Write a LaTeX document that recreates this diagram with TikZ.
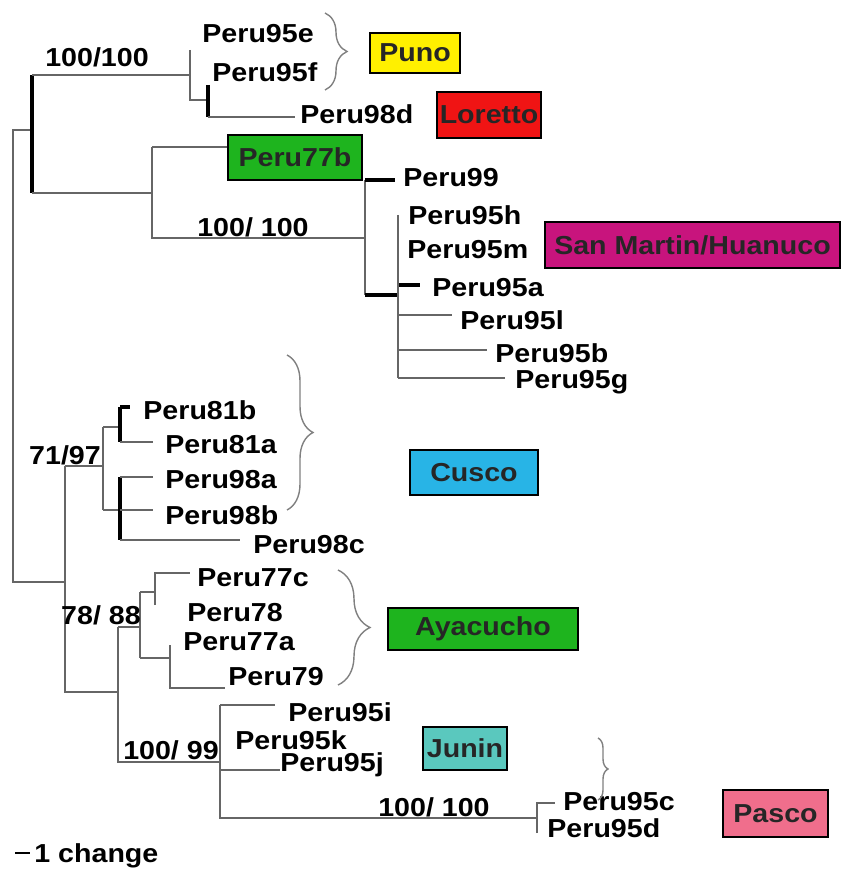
\documentclass[tikz,border=0pt]{standalone}
\usepackage{fontspec}
\setmainfont{Liberation Sans}[FakeStretch=1.1]
\usetikzlibrary{decorations.pathreplacing}

\definecolor{punoyellow}{RGB}{255,240,0}
\definecolor{lorettored}{RGB}{240,20,20}
\definecolor{sanmartin}{RGB}{200,20,125}
\definecolor{cuscoblue}{RGB}{40,180,230}
\definecolor{regiongreen}{RGB}{30,180,30}
\definecolor{juninteal}{RGB}{90,200,190}
\definecolor{pascopink}{RGB}{240,110,140}

\tikzset{
  branch/.style={draw=gray!80!black, line width=0.8pt},
  thickbranch/.style={draw=black, line width=1.6pt},
  leaf/.style={anchor=west, inner sep=0pt, font=\fontsize{13}{15}\selectfont\bfseries},
  support/.style={inner sep=0pt, font=\fontsize{13}{15}\selectfont\bfseries},
  region/.style={draw=black, line width=1pt, inner sep=0pt, text=black!85,
    font=\fontsize{13}{15}\selectfont\bfseries},
  grouping/.style={draw=gray, line width=0.7pt, decorate,
    decoration={brace, amplitude=#1}},
}

\begin{document}
\begin{tikzpicture}[x=0.5pt, y=-0.5pt]
\useasboundingbox (0,0) rectangle (841,871);
% internal nodes:
\coordinate (root) at (13,356);
\coordinate (nA) at (32,130);
\coordinate (nB) at (190,75);
\coordinate (nC) at (208,100);
\coordinate (nD) at (152,193);
\coordinate (nE) at (365,238);
\coordinate (nF) at (398,295);
\coordinate (nG) at (65,582);
\coordinate (nH) at (103,466);
\coordinate (nI) at (120,427);
\coordinate (nJ) at (120,510);
\coordinate (nK) at (118,692);
\coordinate (nL) at (140,627);
\coordinate (nM) at (155,592);
\coordinate (nN) at (170,658);
\coordinate (nO) at (220,762);
\coordinate (nP) at (537,818);
% branch tips:
\coordinate (t95e) at (190,50);
\coordinate (t95f) at (208,85);
\coordinate (t98d) at (295,117);
\coordinate (t77b) at (228,147);
\coordinate (t99) at (395,180);
\coordinate (t95h) at (398,215);
\coordinate (t95a) at (420,285);
\coordinate (t95l) at (452,315);
\coordinate (t95b) at (487,350);
\coordinate (t95g) at (505,378);
\coordinate (t81b) at (130,407);
\coordinate (t81a) at (153,442);
\coordinate (t98a) at (153,477);
\coordinate (t98b) at (153,510);
\coordinate (t98c) at (240,540);
\coordinate (t77c) at (190,573);
\coordinate (t78) at (155,605);
\coordinate (t77a) at (170,645);
\coordinate (t79) at (225,688);
\coordinate (t95i) at (275,705);
\coordinate (t95j) at (280,770);
\coordinate (t95c) at (555,803);
\coordinate (t95d) at (537,833);

% root:
\draw[branch] (root) |- (nA);
\draw[branch] (root) |- (nG);
% upper clade:
\draw[thickbranch] (nA |- nB) -- (nA |- nD);
\draw[branch] (nA |- nB) -- (nB) (nA |- nD) -- (nD);
\draw[branch] (t95e) -- (nB |- nC) -- (nC);
\draw[thickbranch] (t95f) -- (nC |- t98d);
\draw[branch] (nC |- t98d) -- (t98d);
\draw[branch] (nD |- t77b) -- (nD |- nE) -- (nE);
\draw[branch] (nD |- t77b) -- (t77b);
\draw[branch] (nE |- t99) -- (nE |- nF);
\draw[thickbranch] (nE |- t99) -- (t99) (nE |- nF) -- (nF) (nF |- t95a) -- (t95a);
\draw[branch] (t95h) -- (nF |- t95g);
\draw[branch] (nF |- t95l) -- (t95l) (nF |- t95b) -- (t95b) (nF |- t95g) -- (t95g);
% lower clade:
\draw[branch] (nG |- nH) -- (nG |- nK) -- (nK);
\draw[branch] (nG |- nH) -- (nH);
\draw[branch] (nH |- nI) -- (nH |- nJ);
\draw[branch] (nH |- nI) -- (nI) (nH |- nJ) -- (nJ);
\draw[thickbranch] (nI |- t81b) -- (nI |- t81a) (nI |- t81b) -- (t81b);
\draw[branch] (nI |- t81a) -- (t81a);
\draw[thickbranch] (nJ |- t98a) -- (nJ |- t98c);
\draw[branch] (nJ |- t98a) -- (t98a) (nJ) -- (t98b) (nJ |- t98c) -- (t98c);
\draw[branch] (nK |- nL) -- (nK |- nO) -- (nO);
\draw[branch] (nK |- nL) -- (nL);
\draw[branch] (nL |- nM) -- (nL |- nN);
\draw[branch] (nL |- nM) -- (nM) (nL |- nN) -- (nN);
\draw[branch] (t78) -- (nM |- t77c) -- (t77c);
\draw[branch] (t77a) -- (nN |- t79) -- (t79);
\draw[branch] (nO |- t95i) -- (nO |- nP) -- (nP);
\draw[branch] (nO |- t95i) -- (t95i) (nO |- t95j) -- (t95j);
\draw[branch] (t95d) -- (nP |- t95c) -- (t95c);

% taxa:
\node[leaf] (l95e) at (202,34) {Peru95e};
\node[leaf] (l95f) at (212,72) {Peru95f};
\node[leaf] (l98d) at (300,114) {Peru98d};
\node[leaf] (l99) at (403,178) {Peru99};
\node[leaf] (l95h) at (408,215) {Peru95h};
\node[leaf] (l95m) at (407,250) {Peru95m};
\node[leaf] (l95a) at (432,288) {Peru95a};
\node[leaf] (l95l) at (460,320) {Peru95l};
\node[leaf] (l95b) at (495,353) {Peru95b};
\node[leaf] (l95g) at (515,382) {Peru95g};
\node[leaf] (l81b) at (143,410) {Peru81b};
\node[leaf] (l81a) at (165,445) {Peru81a};
\node[leaf] (l98a) at (165,480) {Peru98a};
\node[leaf] (l98b) at (165,515) {Peru98b};
\node[leaf] (l98c) at (253,545) {Peru98c};
\node[leaf] (l77c) at (197,578) {Peru77c};
\node[leaf] (l78) at (187,613) {Peru78};
\node[leaf] (l77a) at (183,642) {Peru77a};
\node[leaf] (l79) at (228,677) {Peru79};
\node[leaf] (l95i) at (288,712) {Peru95i};
\node[leaf] (l95k) at (235,740) {Peru95k};
\node[leaf] (l95j) at (280,765) {Peru95j};
\node[leaf] (l95c) at (563,802) {Peru95c};
\node[leaf] (l95d) at (547,828) {Peru95d};

% bootstrap values:
\node[support] (s1) at (97,57) {100/100};
\node[support] (s2) at (253,227) {100/ 100};
\node[support] (s3) at (65,455) {71/97};
\node[support] (s4) at (101,615) {78/ 88};
\node[support] (s5) at (171,750) {100/ 99};
\node[support] (s6) at (434,807) {100/ 100};

% regions:
\node[region, fill=regiongreen, minimum width=67pt, minimum height=22.5pt] (b77) at (295,157.5) {Peru77b};
\node[region, fill=punoyellow, minimum width=45pt, minimum height=20pt] (puno) at (415,53) {Puno};
\node[region, fill=lorettored, minimum width=52pt, minimum height=23pt] (loretto) at (489,115) {Loretto};
\node[region, fill=sanmartin, minimum width=147.5pt, minimum height=23pt] (sanmartin) at (692.5,245) {San Martin/Huanuco};
\node[region, fill=cuscoblue, minimum width=64pt, minimum height=22.5pt] (cusco) at (474,472.5) {Cusco};
\node[region, fill=regiongreen, minimum width=95pt, minimum height=21pt] (ayacucho) at (483,629) {Ayacucho};
\node[region, fill=juninteal, minimum width=42pt, minimum height=21.5pt] (junin) at (465,748.5) {Junin};
\node[region, fill=pascopink, minimum width=52.5pt, minimum height=23.5pt] (pasco) at (775.5,813.5) {Pasco};

% braces:
\draw[grouping=11pt] (325,13) -- (325,90);
\draw[grouping=13pt] (287,355) -- (287,510);
\draw[grouping=16pt] (338,570) -- (338,685);
\draw[grouping=5pt] (598,738) -- (598,800);

% scale:
\coordinate (bar1) at (15,853);
\coordinate (bar2) at (30,853);
\draw[branch, draw=black] (bar1) -- (bar2);
\node[leaf] (scale) at (34,856) {1 change};
\end{tikzpicture}
\end{document}
